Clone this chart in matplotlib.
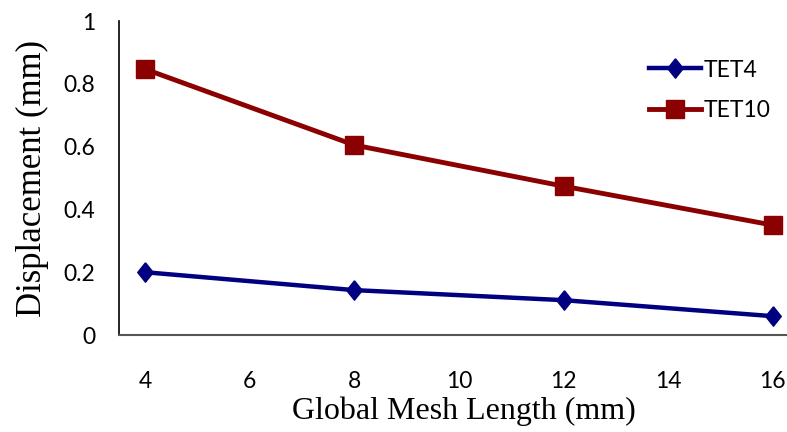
import matplotlib.pyplot as plt

# Datos
longitud = [4, 8, 12, 16]
tet4 = [0.20, 0.143, 0.111, 0.06]
tet10 = [0.847, 0.605, 0.474, 0.35]
xticks = [4, 6, 8, 10, 12, 14, 16]
yticks = [0, 0.2, 0.4, 0.6, 0.8, 1]
ytick_labels = ["0", "0.2", "0.4", "0.6", "0.8", "1"]

# rombo algo mas alto que ancho, como en el original
rombo = [(0, 1), (0.8, 0), (0, -1), (-0.8, 0), (0, 1)]

fig = plt.figure(figsize=(7.87, 4.32), dpi=100)
ax = fig.add_axes([0.151, 0.2245, 0.849, 0.7268])

ax.plot(longitud, tet4, color="#000080", lw=3.2, marker=rombo, ms=14,
        label="TET4", clip_on=False, zorder=3)
ax.plot(longitud, tet10, color="#8B0000", lw=3.5, marker="s", ms=13.5,
        label="TET10", clip_on=False, zorder=3)

ax.set_xlim(3.5, 16.27)
ax.set_ylim(0, 1)
ax.set_xticks(xticks)
ax.set_yticks(yticks)
ax.set_yticklabels(ytick_labels)

for lbl in ax.get_xticklabels() + ax.get_yticklabels():
    lbl.set_family("Lato")
    lbl.set_fontsize(16.5)
ax.tick_params(axis="x", length=0, pad=26)
ax.tick_params(axis="y", length=0, pad=17)

ax.spines["top"].set_visible(False)
ax.spines["right"].set_visible(False)
ax.spines["left"].set_color("black")
ax.spines["bottom"].set_color("#555555")
ax.spines["left"].set_linewidth(1.2)
ax.spines["bottom"].set_linewidth(1.5)

ax.set_xlabel("Global Mesh Length (mm)", family="Liberation Serif", fontsize=23)
ax.set_ylabel("Displacement (mm)", family="Liberation Serif", fontsize=25, labelpad=10)
ax.xaxis.set_label_coords(0.516, -0.195)

ax.legend(loc="upper left", bbox_to_anchor=(0.798, 0.91), bbox_transform=fig.transFigure,
          frameon=False, numpoints=1, handlelength=2.3, handletextpad=0.1,
          labelspacing=0.86, prop={"family": "Lato", "size": 16.5})

fig.savefig("out.png", dpi=100)
